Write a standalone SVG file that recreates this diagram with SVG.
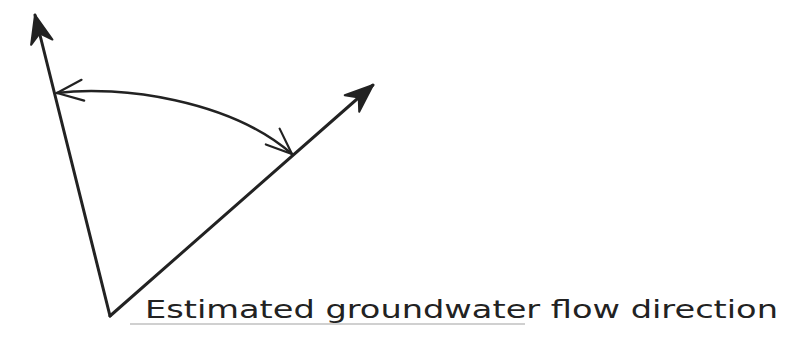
<svg xmlns="http://www.w3.org/2000/svg" width="785" height="338" viewBox="0 0 785 338">
<style>
.ln{fill:none;stroke:#222;stroke-width:3;stroke-linecap:round;stroke-linejoin:round}
.arc{fill:none;stroke:#222;stroke-width:2.5;stroke-linecap:round}
.lbl{font-family:"DejaVu Sans","Liberation Sans",sans-serif;font-size:25px;fill:#222}
</style>
<defs>
<marker id="solid" markerUnits="userSpaceOnUse" viewBox="-30 -13 32 26" refX="0" refY="0" markerWidth="32" markerHeight="26" orient="auto">
<path d="M0,0 L-28,-11 L-19,0 L-28,11 Z" fill="#222" stroke="#222" stroke-width="2" stroke-linejoin="round"/>
</marker>
<marker id="open" markerUnits="userSpaceOnUse" viewBox="-30 -13 32 26" refX="0" refY="0" markerWidth="32" markerHeight="26" orient="auto-start-reverse">
<path d="M-26,-11 L0,0 L-26,10" fill="none" stroke="#222" stroke-width="2.2" stroke-linecap="round"/>
</marker>
</defs>
<rect width="785" height="338" fill="#fff"/>
<g id="connectors">
<line class="ln" x1="110" y1="316" x2="35" y2="15" marker-end="url(#solid)"/>
<line class="ln" x1="110" y1="316" x2="373" y2="85" marker-end="url(#solid)"/>
<path class="arc" d="M57,93 C120,85 230,100 292,154" marker-start="url(#open)" marker-end="url(#open)"/>
</g>
<g id="label">
<line x1="130" y1="324" x2="525" y2="324" stroke="#d0d0d0" stroke-width="2"/>
<text class="lbl" x="145" y="318" textLength="633" lengthAdjust="spacingAndGlyphs">Estimated groundwater flow direction</text>
</g>
</svg>
